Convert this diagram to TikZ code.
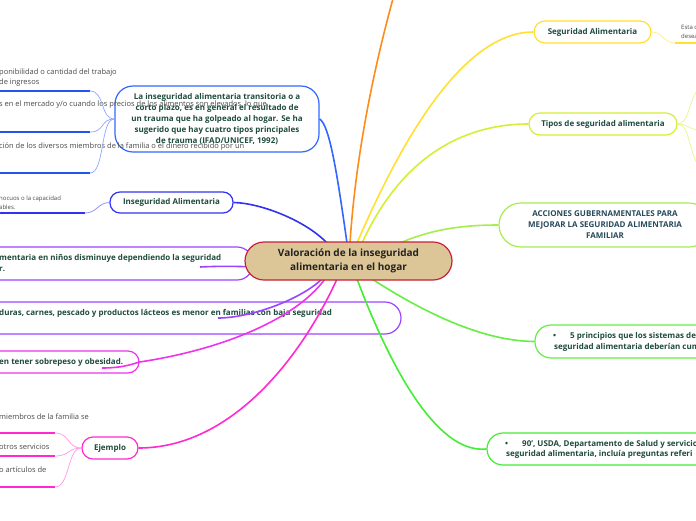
\documentclass[tikz,border=0pt]{standalone}
\usepackage{fontspec}
\setmainfont{Open Sans}
\definecolor{txtgreen}{HTML}{1E4B3E}
\definecolor{txtslate}{HTML}{274A5C}
\definecolor{txtdark}{HTML}{222222}
\definecolor{txtgray}{HTML}{4A4A4A}
\definecolor{centerfill}{HTML}{DCC596}
\definecolor{centerline}{HTML}{C8203A}
\definecolor{cblue}{HTML}{3366FF}
\definecolor{cbluedark}{HTML}{2255EE}
\definecolor{cbluelight}{HTML}{8FA8FF}
\definecolor{cindigo}{HTML}{3333EE}
\definecolor{cindigolight}{HTML}{8888FF}
\definecolor{cviolet}{HTML}{9B45FF}
\definecolor{cmagenta}{HTML}{EE33EE}
\definecolor{cpink}{HTML}{FF2ACF}
\definecolor{cpinklight}{HTML}{FF99E6}
\definecolor{corange}{HTML}{FF8C1A}
\definecolor{cyellow}{HTML}{FFE033}
\definecolor{cyellowlight}{HTML}{FFEE88}
\definecolor{clemon}{HTML}{D6EE33}
\definecolor{clemonlight}{HTML}{E8F590}
\definecolor{clime}{HTML}{A6EE4D}
\definecolor{cgreen}{HTML}{66EE44}
\definecolor{cgreenb}{HTML}{44EE33}
\begin{document}
\begin{tikzpicture}[x=1pt,y=-1pt,
  box/.style={draw, fill=white, line width=1.2pt, inner sep=0pt},
  lbl/.style={font=\fontsize{8}{10}\selectfont\bfseries, text=txtgreen, align=center},
  freetext/.style={font=\fontsize{8}{11}\selectfont\bfseries, text=txtgreen, anchor=west, inner sep=0pt},
  graytext/.style={font=\fontsize{7.5}{9.5}\selectfont, text=txtgray, anchor=west, align=left, inner sep=0pt},
  tinytext/.style={font=\fontsize{6}{9}\selectfont, text=txtgray, anchor=west, align=left, inner sep=0pt},
  conn/.style={line width=1.6pt},
  thin/.style={line width=0.7pt},
  uline/.style={line width=1.8pt}
]
\useasboundingbox[fill=white] (0,0) rectangle (696,520);

% ---------- boxes ----------
\node[box, draw=cviolet, rounded corners=16pt, minimum width=293pt, minimum height=33pt] (ninos) at (106.5,263.5) {};
\node[box, draw=cviolet, rounded corners=16pt, minimum width=441pt, minimum height=32pt] (duras) at (180.5,318) {};
\node[box, draw=cmagenta, rounded corners=11pt, minimum width=179pt, minimum height=22pt] (sobre) at (49.5,362) {};
\node[box, draw=cblue, rounded corners=18pt, minimum width=204pt, minimum height=66pt, lbl, font=\fontsize{8}{11}\selectfont\bfseries] (trans) at (217,119) {La inseguridad alimentaria transitoria o a\\corto plazo, es en general el resultado de\\un trauma que ha golpeado al hogar. Se ha\\sugerido que hay cuatro tipos principales\\de trauma (IFAD/UNICEF, 1992)};
\node[box, draw=cindigo, rounded corners=10pt, minimum width=123pt, minimum height=21pt, lbl] (inseg) at (171.5,202.5) {Inseguridad Alimentaria};
\node[box, draw=cpink, rounded corners=11pt, minimum width=56pt, minimum height=22pt, lbl] (ejemplo) at (110,448) {Ejemplo};
\node[box, draw=cyellow, rounded corners=11pt, minimum width=117pt, minimum height=22pt, lbl] (sa) at (592.5,32) {Seguridad Alimentaria};
\node[box, draw=clemon, rounded corners=11pt, minimum width=148pt, minimum height=22pt, lbl] (tipos) at (603,124) {Tipos de seguridad alimentaria};
\node[box, draw=clime, rounded corners=22pt, minimum width=212pt, minimum height=44pt, lbl, text=txtslate, font=\fontsize{8}{11}\selectfont\bfseries] (acc) at (605,225) {ACCIONES GUBERNAMENTALES PARA\\MEJORAR LA SEGURIDAD ALIMENTARIA\\FAMILIAR};
\node[box, draw=cgreen, rounded corners=16pt, minimum width=265pt, minimum height=33pt] (princ) at (667.5,341.5) {};
\node[box, draw=cgreenb, rounded corners=16pt, minimum width=313pt, minimum height=32pt] (usda) at (643.5,449) {};

% ---------- texts in cut boxes ----------
\node[freetext] (ninosA) at (-1,258) {mentaria en niños disminuye dependiendo la seguridad};
\node[freetext] (ninosB) at (-1,269) {r.};
\node[freetext] (durasA) at (-1,313) {duras, carnes, pescado y productos lácteos es menor en familias con baja seguridad};
\node[freetext] (sobreA) at (-1,362) {en tener sobrepeso y obesidad.};
\node[freetext] (princDot) at (553,336) {•};
\node[freetext] (princA) at (570,336) {5 principios que los sistemas de};
\node[freetext] (princB) at (554,347) {seguridad alimentaria deberían cum};
\node[freetext] (usdaDot) at (505,444) {•};
\node[freetext] (usdaA) at (522,444) {90’, USDA, Departamento de Salud y servicio};
\node[freetext] (usdaB) at (506,454.5) {seguridad alimentaria, incluía preguntas referi};

% ---------- gray children texts ----------
\node[graytext] (t1) at (-1,77.5) {ponibilidad o cantidad del trabajo\\de ingresos};
\node[graytext] (t2) at (-1,104.5) {s en el mercado y/o cuando los precios de los alimentos son elevados, lo que};
\node[graytext] (t3) at (-1,147) {ción de los diversos miembros de la familia o el dinero recibido por un};
\node[tinytext] (t4) at (-1,202.5) {nocuos o la capacidad\\ables.};
\node[graytext] (e1) at (-1,417) {miembros de la familia se};
\node[graytext] (e2) at (-1,447) {otros servicios};
\node[graytext] (e3) at (-1,470) {o artículos de};
\node[tinytext] (s1) at (681,31.5) {Esta c\\desea};

% ---------- child coordinates ----------
\coordinate (u1) at (90,91);   \coordinate (u1s) at (-5,91);
\coordinate (u2) at (90,132);  \coordinate (u2s) at (-5,132);
\coordinate (u3) at (90,173);  \coordinate (u3s) at (-5,173);
\coordinate (u4) at (85,213);  \coordinate (u4s) at (-5,213);
\coordinate (v1) at (55,433);  \coordinate (v1s) at (-5,433);
\coordinate (v2) at (55,456);  \coordinate (v2s) at (-5,456);
\coordinate (v3) at (55,487);  \coordinate (v3s) at (-5,487);
\coordinate (w1) at (675,43);  \coordinate (w1e) at (702,43);
\coordinate (x1) at (700,88);  \coordinate (x2) at (700,130); \coordinate (x3) at (700,168);

% underlines
\draw[uline, cbluedark] (u1s) -- (u1);
\draw[uline, cbluedark] (u2s) -- (u2);
\draw[uline, cbluedark] (u3s) -- (u3);
\draw[uline, cindigo] (u4s) -- (u4);
\draw[uline, cpink] (v1s) -- (v1);
\draw[uline, cpink] (v2s) -- (v2);
\draw[uline, cpink] (v3s) -- (v3);
\draw[uline, cyellow] (w1) -- (w1e);

% thin child connectors
\draw[thin, cbluelight] (u1) .. controls (105,91) and (100,119) .. (trans.west);
\draw[thin, cbluelight] (u2) .. controls (105,132) and (100,119) .. (trans.west);
\draw[thin, cbluelight] (u3) .. controls (105,173) and (100,119) .. (trans.west);
\draw[thin, cindigolight] (u4) .. controls (97,213) and (98,202.5) .. (inseg.west);
\draw[thin, cpinklight] (v1) .. controls (70,433) and (67,448) .. (ejemplo.west);
\draw[thin, cpinklight] (v2) .. controls (70,456) and (67,448) .. (ejemplo.west);
\draw[thin, cpinklight] (v3) .. controls (70,487) and (67,448) .. (ejemplo.west);
\draw[thin, cyellowlight] (sa.east) .. controls (663,32) and (663,43) .. (w1);
\draw[thin, clemonlight] (tipos.east) .. controls (690,124) and (688,98) .. (x1);
\draw[thin, clemonlight] (tipos.east) .. controls (688,124) and (690,130) .. (x2);
\draw[thin, clemonlight] (tipos.east) .. controls (690,124) and (688,152) .. (x3);

% ---------- main connectors ----------
\coordinate (cT1) at (347,243);
\coordinate (cT2) at (327,243);
\coordinate (cT3) at (350,243);
\coordinate (cT4) at (357,243);
\coordinate (cT5) at (362,243);
\coordinate (cT6) at (400,243);
\coordinate (cB1) at (372,279);
\coordinate (cB2) at (357,279);
\coordinate (cB3) at (322,279);
\coordinate (cB4) at (325,279);
\coordinate (cB5) at (337,279);
\coordinate (cL) at (300,270);
\coordinate (topout) at (394,-5);
\coordinate (ninosEnd) at (200,267);
\coordinate (durasEnd) at (218,318);
\coordinate (sobreEnd) at (102,368);

\draw[conn, cblue] (trans.east) .. controls (330,125) and (338,180) .. (cT1);
\draw[conn, cindigo] (inseg.east) .. controls (260,203) and (305,220) .. (cT2);
\draw[conn, corange] (cT3) .. controls (356,150) and (376,60) .. (topout);
\draw[conn, cyellow] (cT4) .. controls (410,120) and (470,32) .. (sa.west);
\draw[conn, clemon] (cT5) .. controls (400,160) and (460,124) .. (tipos.west);
\draw[conn, clime] (cT6) .. controls (430,230) and (460,225) .. (acc.west);
\draw[conn, cgreen] (cB1) .. controls (420,310) and (480,341) .. (princ.west);
\draw[conn, cgreenb] (cB2) .. controls (380,340) and (430,455) .. (usda.west);
\draw[conn, cviolet] (durasEnd) .. controls (250,318) and (300,300) .. (cB3);
\draw[conn, cmagenta] (sobreEnd) .. controls (125,368) and (135,363) .. (sobre.east) .. controls (220,350) and (295,320) .. (cB4);
\draw[conn, cpink] (ejemplo.east) .. controls (230,448) and (300,360) .. (cB5);
\draw[conn, cviolet] (ninosEnd) .. controls (240,265) and (270,268) .. (cL);

% ---------- central node ----------
\node[draw=centerline, fill=centerfill, line width=1.2pt, rounded corners=19pt, minimum width=207pt, minimum height=38pt, inner sep=0pt, align=center, text=txtdark, font=\fontsize{10}{13.5}\selectfont\bfseries] (center) at (348.5,261) {Valoración de la inseguridad\\alimentaria en el hogar};
\end{tikzpicture}
\end{document}
